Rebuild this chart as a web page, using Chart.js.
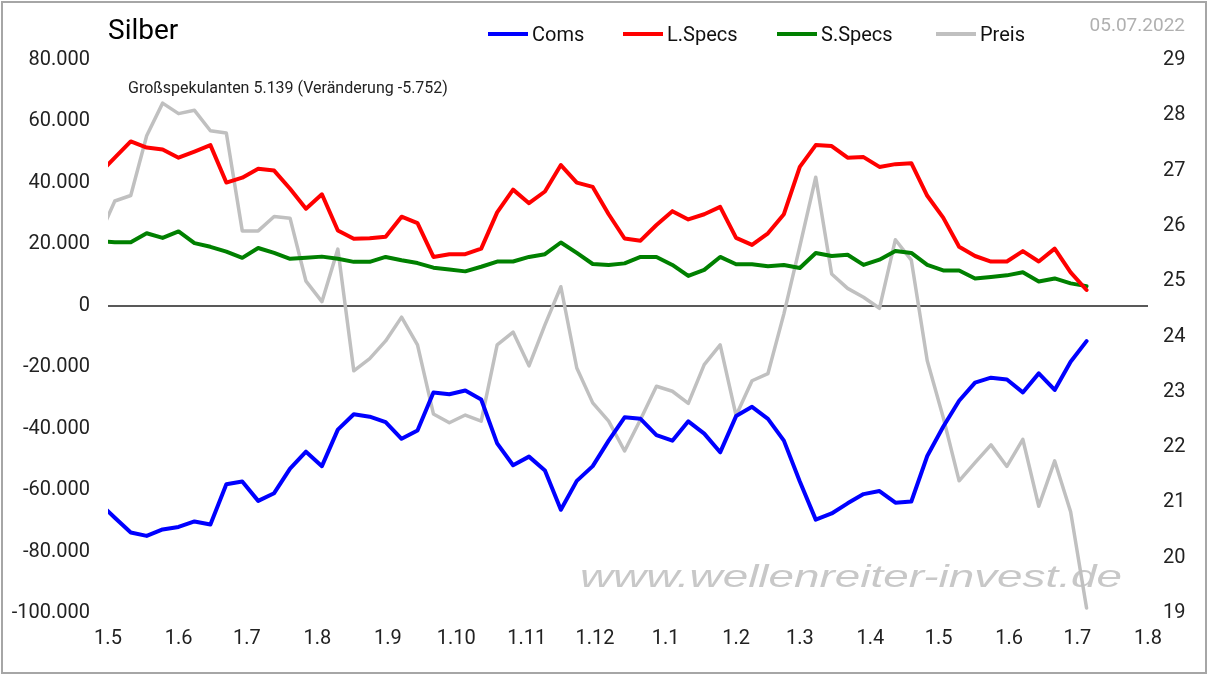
<!DOCTYPE html>
<html>
<head>
<meta charset="utf-8">
<script src="https://cdn.jsdelivr.net/npm/chart.js@4.4.0/dist/chart.umd.min.js"></script>
<style>
  html, body { margin: 0; padding: 0; background: #fff; }
  #wrap { width: 1209px; height: 676px; position: relative; }
</style>
</head>
<body>
<div id="wrap"><canvas id="cotChart"></canvas></div>
<script>
const chartTitle = 'Silber';
const reportDate = '05.07.2022';
const watermark = 'www.wellenreiter-invest.de';

// COT report dates (Tuesdays)
const weeks = [
  '2021-04-27', '2021-05-04', '2021-05-11', '2021-05-18', '2021-05-25',
  '2021-06-01', '2021-06-08', '2021-06-15', '2021-06-22', '2021-06-29',
  '2021-07-06', '2021-07-13', '2021-07-20', '2021-07-27',
  '2021-08-03', '2021-08-10', '2021-08-17', '2021-08-24', '2021-08-31',
  '2021-09-07', '2021-09-14', '2021-09-21', '2021-09-28',
  '2021-10-05', '2021-10-12', '2021-10-19', '2021-10-26',
  '2021-11-02', '2021-11-09', '2021-11-16', '2021-11-23', '2021-11-30',
  '2021-12-07', '2021-12-14', '2021-12-21', '2021-12-28',
  '2022-01-04', '2022-01-11', '2022-01-18', '2022-01-25',
  '2022-02-01', '2022-02-08', '2022-02-15', '2022-02-22',
  '2022-03-01', '2022-03-08', '2022-03-15', '2022-03-22', '2022-03-29',
  '2022-04-05', '2022-04-12', '2022-04-19', '2022-04-26',
  '2022-05-03', '2022-05-10', '2022-05-17', '2022-05-24', '2022-05-31',
  '2022-06-07', '2022-06-14', '2022-06-21', '2022-06-28',
  '2022-07-05'
];

const coms = [
  -64000, -69000, -73800, -74900, -72800, -72000, -70200, -71200, -58100, -57200,
  -63500, -61000, -53000, -47500, -52200, -40300, -35300, -36100, -37900, -43300,
  -40600, -28200, -28800, -27600, -30500, -44800, -51900, -49100, -53600, -66400,
  -57000, -52200, -43900, -36300, -36800, -42100, -43900, -37600, -41600, -47700,
  -35900, -32900, -36800, -43900, -57200, -69600, -67600, -64300, -61300, -60300,
  -64100, -63700, -48900, -39400, -30900, -25000, -23400, -24000, -28200, -22000,
  -27400, -18200, -11500
];

const lSpecs = [
  42900, 48200, 53500, 51500, 50900, 48200, 50200, 52300, 40100, 41700,
  44600, 44000, 38100, 31600, 36300, 24500, 21800, 22000, 22500, 29000,
  26900, 15900, 16800, 16800, 18600, 30400, 37800, 33400, 37200, 45800,
  40100, 38700, 29800, 21900, 21200, 26300, 30800, 28100, 29800, 32200,
  22100, 19800, 23600, 29800, 45200, 52300, 52000, 48200, 48400, 45200,
  46100, 46400, 35800, 28700, 19200, 16200, 14400, 14400, 17800, 14400,
  18600, 10891, 5139
];

const sSpecs = [
  21000, 20700, 20700, 23600, 22100, 24200, 20400, 19200, 17600, 15600,
  18800, 17200, 15300, 15600, 16000, 15300, 14300, 14300, 15900, 14800,
  13900, 12400, 11800, 11200, 12700, 14400, 14400, 15900, 16800, 20600,
  17200, 13600, 13300, 13800, 15900, 15900, 13300, 9700, 11700, 15900,
  13500, 13500, 12900, 13300, 12300, 17200, 16200, 16600, 13300, 15000,
  17800, 17200, 13300, 11500, 11500, 8900, 9400, 9900, 10900, 7900,
  8900, 7300, 6400
];

const preis = [
  25.8, 26.45, 26.55, 27.63, 28.22, 28.03, 28.09, 27.72, 27.68, 25.91,
  25.91, 26.17, 26.14, 25.0, 24.63, 25.58, 23.38, 23.6, 23.92, 24.35,
  23.85, 22.6, 22.44, 22.58, 22.47, 23.85, 24.08, 23.47, 24.21, 24.9,
  23.43, 22.8, 22.47, 21.93, 22.5, 23.1, 23.01, 22.79, 23.49, 23.85,
  22.57, 23.2, 23.33, 24.41, 25.63, 26.88, 25.13, 24.87, 24.71, 24.51,
  25.75, 25.38, 23.56, 22.54, 21.39, 21.72, 22.04, 21.65, 22.14, 20.93,
  21.75, 20.83, 19.09
];

const monthStarts = [
  '2021-05-01', '2021-06-01', '2021-07-01', '2021-08-01', '2021-09-01',
  '2021-10-01', '2021-11-01', '2021-12-01', '2022-01-01', '2022-02-01',
  '2022-03-01', '2022-04-01', '2022-05-01', '2022-06-01', '2022-07-01',
  '2022-08-01'
];
const monthLabels = [
  '1.5', '1.6', '1.7', '1.8', '1.9', '1.10', '1.11', '1.12',
  '1.1', '1.2', '1.3', '1.4', '1.5', '1.6', '1.7', '1.8'
];

const base = Date.UTC(2021, 4, 1);
function dayNo(s) {
  const p = s.split('-').map(Number);
  return (Date.UTC(p[0], p[1] - 1, p[2]) - base) / 86400000;
}

function fmtDe(v) {
  const s = Math.abs(Math.round(v)).toString().replace(/\B(?=(\d{3})+(?!\d))/g, '.');
  return (v < 0 ? '-' : '') + s;
}

function series(values) {
  return weeks.map((w, k) => ({ x: dayNo(w), y: values[k] }));
}

const lastL = lSpecs[lSpecs.length - 1];
const prevL = lSpecs[lSpecs.length - 2];
const noteText = 'Großspekulanten ' + fmtDe(lastL) + ' (Veränderung ' + fmtDe(lastL - prevL) + ')';

const FONT = 'Roboto, "Liberation Sans", Arial, sans-serif';

const decorations = {
  id: 'decorations',
  beforeDatasetsDraw(chart) {
    const ctx = chart.ctx;
    ctx.save();
    ctx.font = 'italic 32px "Liberation Sans", Arial, sans-serif';
    ctx.fillStyle = '#c8c8c8';
    ctx.textBaseline = 'alphabetic';
    const w = ctx.measureText(watermark).width;
    ctx.translate(580, 587);
    ctx.scale(542 / w, 1);
    ctx.fillText(watermark, 0, 0);
    ctx.restore();
  },
  afterDraw(chart) {
    const ctx = chart.ctx;
    ctx.save();
    // frame
    ctx.strokeStyle = '#a6a6a6';
    ctx.lineWidth = 2;
    ctx.strokeRect(2, 2, 1204, 671);

    ctx.textBaseline = 'alphabetic';
    ctx.fillStyle = '#000';
    ctx.font = '28px ' + FONT;
    ctx.fillText(chartTitle, 108, 39);

    ctx.font = '16px ' + FONT;
    ctx.fillStyle = '#222';
    ctx.fillText(noteText, 128, 93);

    ctx.font = '19px ' + FONT;
    ctx.fillStyle = '#b0b0b0';
    ctx.textAlign = 'right';
    ctx.fillText(reportDate, 1185, 31);
    ctx.textAlign = 'left';

    // legend
    const pos = [488, 623, 777, 936];
    ctx.font = '20px ' + FONT;
    chart.data.datasets.forEach((ds, k) => {
      ctx.strokeStyle = ds.borderColor;
      ctx.lineWidth = 4;
      ctx.beginPath();
      ctx.moveTo(pos[k], 34);
      ctx.lineTo(pos[k] + 40, 34);
      ctx.stroke();
      ctx.fillStyle = '#111';
      ctx.fillText(ds.label, pos[k] + 44, 41);
    });
    ctx.restore();
  }
};

const tickFont = { family: FONT, size: 20 };

new Chart(document.getElementById('cotChart'), {
  type: 'line',
  data: {
    datasets: [
      { label: 'Coms', data: series(coms), borderColor: '#0000ff', yAxisID: 'y' },
      { label: 'L.Specs', data: series(lSpecs), borderColor: '#ff0000', yAxisID: 'y' },
      { label: 'S.Specs', data: series(sSpecs), borderColor: '#008000', yAxisID: 'y' },
      { label: 'Preis', data: series(preis), borderColor: '#c0c0c0', yAxisID: 'y1', borderWidth: 3.5 }
    ]
  },
  options: {
    responsive: true,
    maintainAspectRatio: false,
    animation: false,
    layout: { padding: { top: 60, left: 0, right: 0, bottom: 0 } },
    elements: {
      point: { radius: 0 },
      line: { borderWidth: 4, tension: 0, borderJoinStyle: 'round', borderCapStyle: 'round' }
    },
    plugins: {
      legend: { display: false },
      tooltip: { enabled: false }
    },
    scales: {
      x: {
        type: 'linear',
        min: dayNo(monthStarts[0]),
        max: dayNo(monthStarts[monthStarts.length - 1]),
        grid: { display: false },
        border: { display: false },
        afterBuildTicks(scale) {
          scale.ticks = monthStarts.map(d => ({ value: dayNo(d) }));
        },
        afterFit(scale) { scale.height = 63; },
        ticks: {
          autoSkip: false,
          maxRotation: 0,
          padding: 6,
          color: '#222',
          font: tickFont,
          callback: (v, i) => monthLabels[i]
        }
      },
      y: {
        position: 'left',
        min: -100000,
        max: 80000,
        grid: {
          drawTicks: false,
          color: c => (c.tick && c.tick.value === 0 ? '#595959' : 'rgba(0,0,0,0)'),
          lineWidth: 2
        },
        border: { display: false },
        afterFit(scale) { scale.width = 108; },
        ticks: {
          stepSize: 20000,
          padding: 18,
          color: '#222',
          font: tickFont,
          callback: v => fmtDe(v)
        }
      },
      y1: {
        position: 'right',
        min: 19,
        max: 29,
        grid: { display: false, drawTicks: false },
        border: { display: false },
        afterFit(scale) { scale.width = 61; },
        ticks: {
          stepSize: 1,
          padding: 15,
          color: '#222',
          font: tickFont
        }
      }
    }
  },
  plugins: [decorations]
});
</script>
</body>
</html>
